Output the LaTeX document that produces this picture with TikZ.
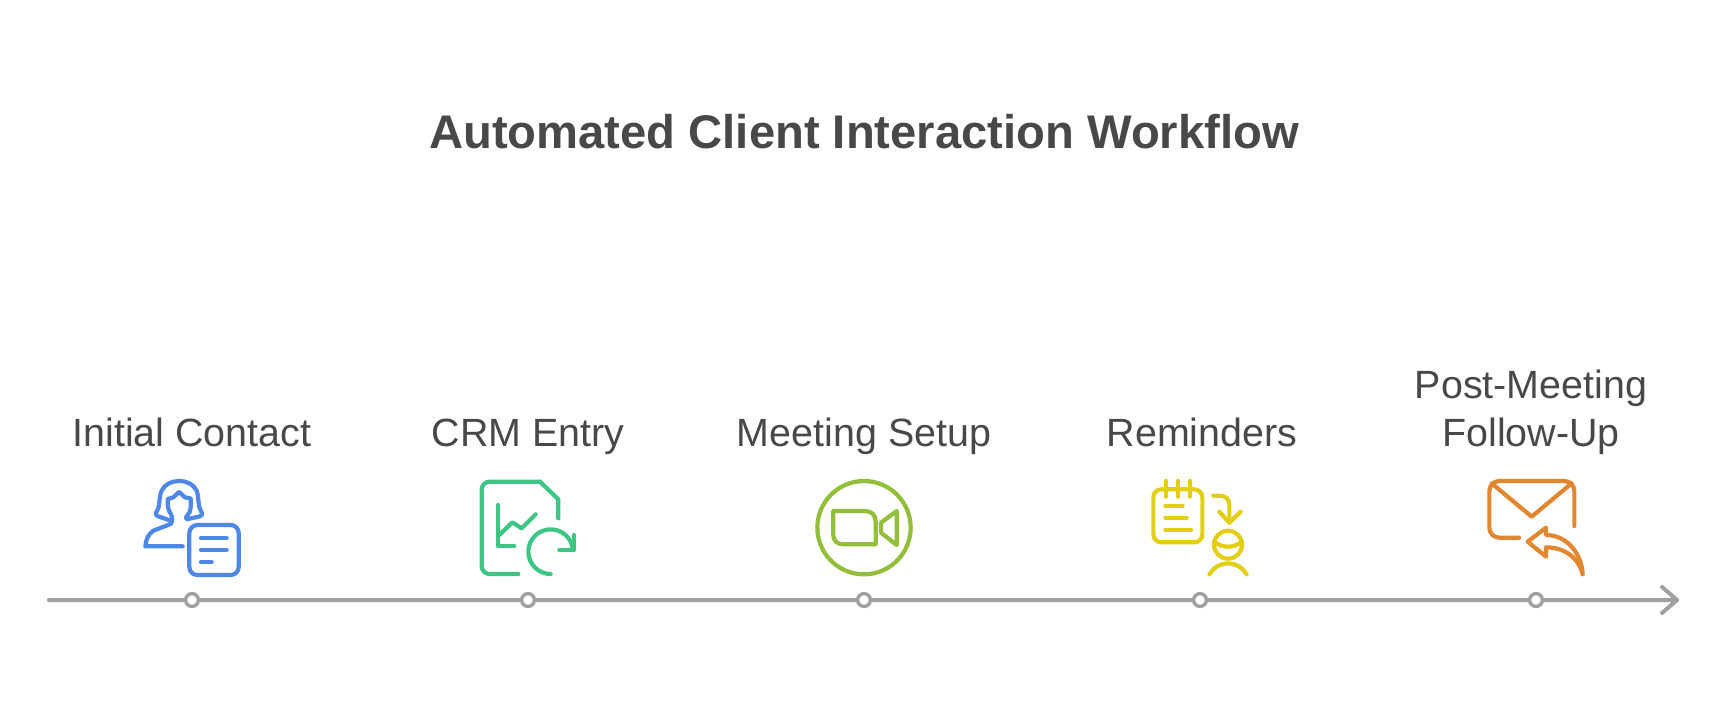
\documentclass[tikz,border=0pt]{standalone}
\usepackage{fontspec}
\setmainfont{Liberation Sans}
\usetikzlibrary{arrows.meta}

\definecolor{axisgray}{HTML}{A0A0A0}
\definecolor{textgray}{HTML}{484848}
\definecolor{iconblue}{HTML}{4E88E7}
\definecolor{icongreen}{HTML}{3CC583}
\definecolor{iconlime}{HTML}{93BE3A}
\definecolor{iconyellow}{HTML}{E2CF13}
\definecolor{iconorange}{HTML}{E0872F}

\begin{document}
\begin{tikzpicture}[
  x=0.5pt,y=-0.5pt,
  axisline/.style={draw=axisgray,line width=2pt},
  dot/.style={circle,draw=axisgray,fill=white,line width=1.7pt,minimum size=6.4pt,inner sep=0pt},
  label/.style={font=\fontsize{19.7}{24}\selectfont,text=textgray,align=center,anchor=base,inner sep=0pt},
  title/.style={font=\fontsize{23.6}{28}\selectfont\bfseries,text=textgray,inner sep=0pt},
  icon/.style={line width=2.1pt,line cap=round,line join=round,scale=1/3},
]
\useasboundingbox (0,0) rectangle (1728,703);
\node[title] (heading) at (864,132) {Automated Client Interaction Workflow};

% time line
\coordinate (start) at (49,600);
\coordinate (end) at (1677,600);
\draw[axisline,line cap=round,line join=round] (start) -- (end) -- +(-15,-13) (end) -- +(-15,13);
\node[dot] (dotcontact) at (192,600) {};
\node[dot] (dotcrm) at (528,600) {};
\node[dot] (dotmeeting) at (864,600) {};
\node[dot] (dotreminder) at (1200,600) {};
\node[dot] (dotfollow) at (1536,600) {};

% labels
\node[label] (contact) at (192,446) {Initial Contact};
\node[label] (crm) at (528,446) {CRM Entry};
\node[label] (meeting) at (864,446) {Meeting Setup};
\node[label] (reminder) at (1202,446) {Reminders};
\node[label] (follow) at (1531,446) {Post-Meeting\\Follow-Up};

% contact icon
\begin{scope}[shift={(120,460)},icon,draw=iconblue]
\draw (155,183) -- (112,168) .. controls (105,165) and (106,160) .. (110,155) .. controls (122,135) and (115,115) .. (125,92)
  .. controls (135,72) and (155,63) .. (177,63) .. controls (200,63) and (220,72) .. (230,92)
  .. controls (238,115) and (232,135) .. (244,155) .. controls (249,162) and (247,166) .. (240,169) -- (200,178) .. controls (196,175) and (198,170) .. (202,166)
  .. controls (215,155) and (212,135) .. (212,115) -- (195,112) -- (177,96) -- (160,112) -- (143,117)
  .. controls (143,135) and (143,150) .. (153,163) .. controls (158,172) and (158,185) .. (152,192)
  -- (100,212) .. controls (85,222) and (77,240) .. (76,259) -- (188,259);
\draw[rounded corners=4pt] (208,195) rectangle (356,345);
\draw (243,234) -- (320,234) (243,270) -- (320,270) (243,306) -- (275,306);
\end{scope}

% crm icon
\begin{scope}[shift={(450,460)},icon,draw=icongreen]
\draw[rounded corners=4pt] (205,342) -- (95,342) -- (95,65) -- (270,65);
\draw (270,65) -- (325,118) -- (325,175);
\draw (144,135) -- (144,258) -- (193,258);
\draw (148,225) -- (187,187) -- (215,205) -- (257,163);
\draw (302,342) arc[start angle=90,end angle=355,radius=67];
\draw (372,225) -- (372,270) -- (328,270);
\end{scope}

% meeting icon
\begin{scope}[shift={(790,460)},icon,draw=iconlime]
\draw (222,203) circle[radius=140];
\draw (130,153) -- (225,153) .. controls (245,153) and (257,165) .. (257,185) -- (257,253) -- (160,253)
  .. controls (140,253) and (130,240) .. (130,225) -- cycle;
\draw (320,153) -- (320,255) -- (273,218) -- (273,188) -- cycle;
\end{scope}

% reminder icon
\begin{scope}[shift={(1130,460)},icon,draw=iconyellow]
\draw[rounded corners=4pt] (70,88) rectangle (217,247);
\draw (108,63) -- (108,110) (144,63) -- (144,110) (180,63) -- (180,110);
\draw (106,137) -- (158,137) (106,173) -- (170,173) (106,209) -- (183,209);
\draw (250,107) -- (268,107) .. controls (288,107) and (298,118) .. (298,135) -- (298,188);
\draw (268,155) -- (298,188) -- (332,155);
\draw (294,254) circle[radius=42];
\draw (253,245) .. controls (275,265) and (313,265) .. (335,245);
\draw (238,343) .. controls (255,318) and (275,310) .. (294,310) .. controls (313,310) and (333,318) .. (350,343);
\end{scope}

% follow up icon
\begin{scope}[shift={(1460,460)},icon,draw=iconorange]
\draw[rounded corners=5pt] (177,233) -- (88,233) -- (88,63) -- (343,63) -- (343,198);
\draw (95,70) -- (215,170) -- (335,70);
\draw (368,343) .. controls (365,280) and (320,225) .. (258,225) -- (258,203) -- (203,245) -- (258,290) -- (258,262)
  .. controls (310,262) and (355,290) .. (368,343);
\end{scope}
\end{tikzpicture}
\end{document}
